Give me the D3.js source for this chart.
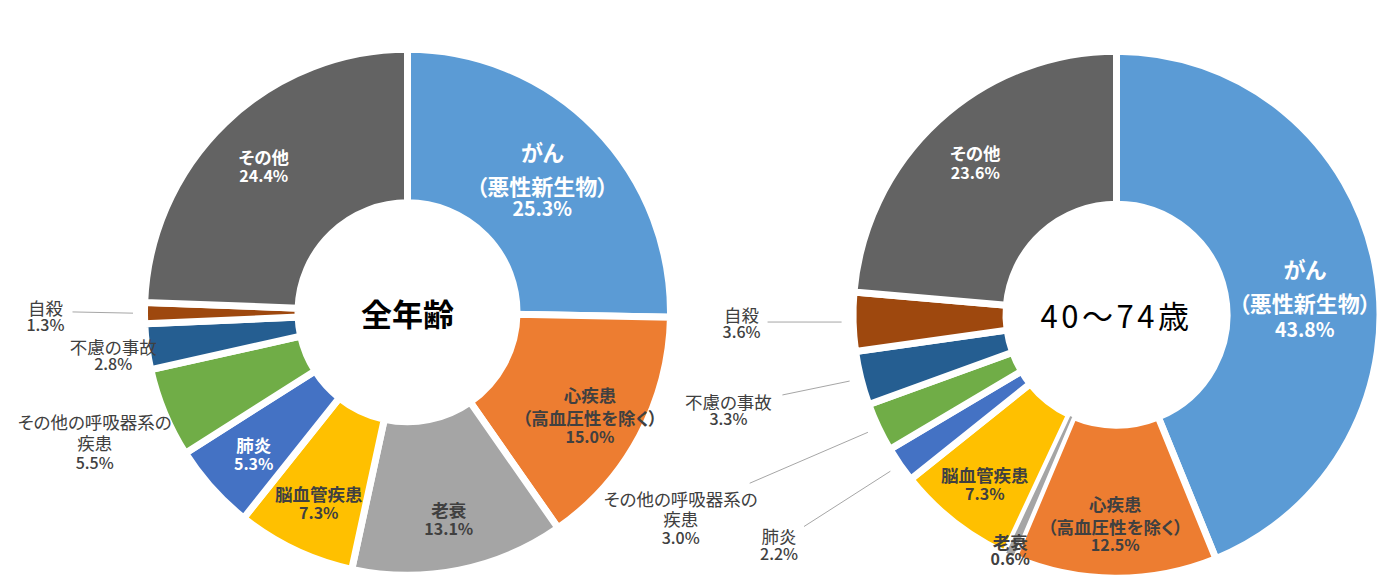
<!DOCTYPE html>
<html lang="ja">
<head>
<meta charset="utf-8">
<script src="https://cdn.jsdelivr.net/npm/d3@7"></script>
<style>
  html, body { margin: 0; padding: 0; background: #ffffff; }
  svg { display: block; }
  text { font-family: "Noto Sans CJK JP", "Noto Sans", sans-serif; font-feature-settings: "palt"; }
</style>
</head>
<body>
<svg id="chart" width="1400" height="579"></svg>
<script>
// ---- data ----
const causes = ["がん（悪性新生物）", "心疾患（高血圧性を除く）", "老衰", "脳血管疾患", "肺炎",
                "その他の呼吸器系の疾患", "不慮の事故", "自殺", "その他"];
const causeLines = [["がん", "（悪性新生物）"], ["心疾患", "（高血圧性を除く）"], ["老衰"], ["脳血管疾患"], ["肺炎"],
                    ["その他の呼吸器系の", "疾患"], ["不慮の事故"], ["自殺"], ["その他"]];
const allAges = [25.3, 15.0, 13.1, 7.3, 5.3, 5.5, 2.8, 1.3, 24.4];
const ages40to74 = [43.8, 12.5, 0.6, 7.3, 2.2, 3.0, 3.3, 3.6, 23.6];
const chartTitles = ["全年齢", "40～74歳"];
const colors = ["#5B9BD5", "#ED7D31", "#A5A5A5", "#FFC000", "#4472C4", "#70AD47", "#255E91", "#9E480E", "#636363"];

// ---- layout (positions / styles only) ----
const layouts = [
  { cx: 407.5, cy: 312.3, R: 259.5, r: 113, title: { size: 31, weight: 700, spacing: 0 },
    labels: [
      { kind: "big",   nudge: [-8, -21],  gaps: [34, 22] },
      { kind: "in",    nudge: [6, -12],   gaps: [23, 19] },
      { kind: "in",    nudge: [2, 1],     gaps: [19] },
      { kind: "in",    nudge: [-3, 0],    gaps: [19] },
      { kind: "white", nudge: [-5, -2],   gaps: [19] },
      { kind: "out",   nudge: [-128, 32], gaps: [21, 20] },
      { kind: "out",   nudge: [-96, 7],   gaps: [17] },
      { kind: "out",   nudge: [-162, -6], gaps: [17], lead: [27, 5] },
      { kind: "white", nudge: [-5, -12],  gaps: [19] }
    ] },
  { cx: 1116.5, cy: 314.7, R: 260, r: 114, title: { size: 31, weight: 400, spacing: 3.5 },
    labels: [
      { kind: "big",   nudge: [-8, -8],    gaps: [34, 26] },
      { kind: "in",    nudge: [0, -12],    gaps: [23, 18] },
      { kind: "in",    nudge: [-25, 44],   gaps: [17] },
      { kind: "in",    nudge: [-8, 2],     gaps: [19] },
      { kind: "out",   nudge: [-173, 107], gaps: [18], lead: [25, -9] },
      { kind: "out",   nudge: [-255, 98],  gaps: [20, 19], lead: [69, -15] },
      { kind: "out",   nudge: [-194, 38],  gaps: [17], lead: [54, -6] },
      { kind: "out",   nudge: [-175, -6],  gaps: [17], lead: [26, 8] },
      { kind: "white", nudge: [-6, -15],   gaps: [20] }
    ] }
];

const svg = d3.select("#chart");
const fmt = d3.format(".1f");
const GAP = 7;
const labelR = 200;

[allAges, ages40to74].forEach((values, ci) => {
  const L = layouts[ci];
  const g = svg.append("g").attr("transform", `translate(${L.cx},${L.cy})`);
  const pie = d3.pie().sort(null).value(d => d.v);
  const arcs = pie(values.map((v, i) => ({ v, i })));
  const total = d3.sum(values);
  const arc = d3.arc().innerRadius(L.r - GAP / 2).outerRadius(L.R + GAP / 2);

  const tiny = d => d.data.v / total < 0.01;
  const order = arcs.slice().sort((a, b) => tiny(a) - tiny(b));
  g.selectAll("path.slice").data(order).join("path")
    .attr("class", "slice")
    .attr("d", arc)
    .attr("fill", d => colors[d.data.i])
    .attr("stroke", "#ffffff")
    .attr("stroke-width", d => tiny(d) ? 2 : GAP)
    .attr("stroke-linejoin", "miter");

  const polar = (ang, rad) => [rad * Math.sin(ang), -rad * Math.cos(ang)];

  arcs.forEach(a => {
    const i = a.data.i;
    const cfg = L.labels[i];
    const mid = (a.startAngle + a.endAngle) / 2;
    const p = polar(mid, labelR);
    const x = p[0] + cfg.nudge[0], y = p[1] + cfg.nudge[1];
    const lines = causeLines[i].concat([fmt(a.data.v) + "%"]);
    const fill = (cfg.kind === "big" || cfg.kind === "white") ? "#ffffff" : "#404040";
    const txt = g.append("text")
      .attr("text-anchor", "middle")
      .attr("dominant-baseline", "central")
      .attr("fill", fill);
    let yy = y;
    lines.forEach((t, k) => {
      if (k > 0) yy += cfg.gaps[k - 1];
      const isPct = k === lines.length - 1;
      let size = isPct ? 16 : 17.5;
      if (cfg.kind === "big") size = isPct ? 19.5 : 22;
      const weight = cfg.kind === "out" ? (isPct ? 500 : 400) : 700;
      txt.append("tspan")
        .attr("x", x).attr("y", yy)
        .attr("dominant-baseline", "central")
        .attr("font-size", size)
        .attr("font-weight", weight)
        .text(t);
    });
    if (cfg.lead) {
      const e = polar(mid, L.R + 15);
      g.append("line")
        .attr("x1", x + cfg.lead[0]).attr("y1", y + cfg.lead[1])
        .attr("x2", e[0]).attr("y2", e[1])
        .attr("stroke", "#A6A6A6").attr("stroke-width", 1);
    }
  });

  g.append("text")
    .attr("x", 0).attr("y", 0)
    .attr("text-anchor", "middle")
    .attr("dominant-baseline", "central")
    .attr("font-size", L.title.size)
    .attr("font-weight", L.title.weight)
    .attr("letter-spacing", L.title.spacing)
    .attr("fill", "#000000")
    .text(chartTitles[ci]);
});
</script>
</body>
</html>
